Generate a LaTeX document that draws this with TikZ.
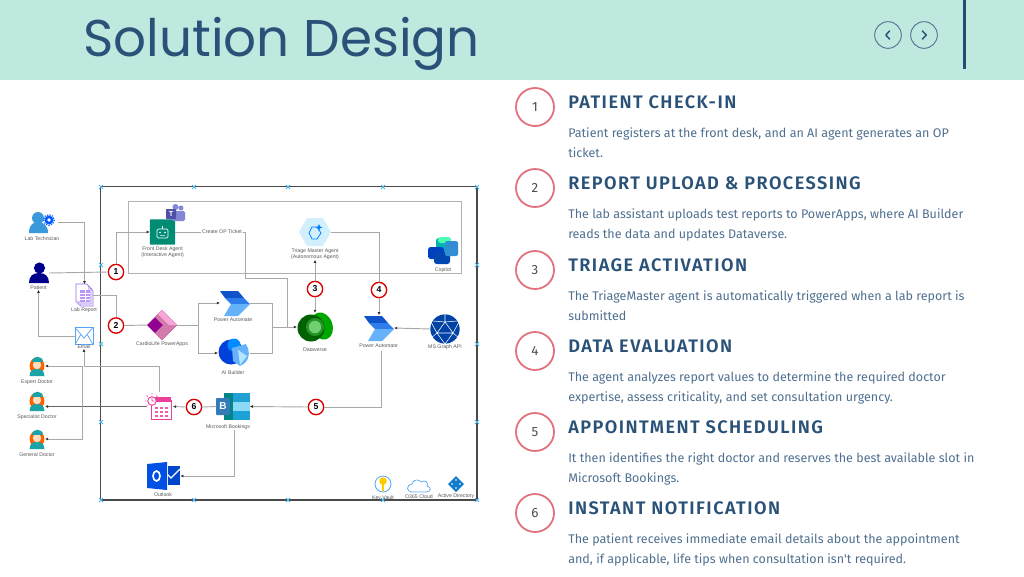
\documentclass[tikz,border=0pt]{standalone}
\usepackage{fontspec}
\setmainfont{Liberation Sans}
\newfontfamily\titlefont{Poppins}
\newfontfamily\bodyfont{Fira Sans}
\newfontfamily\headfont[LetterSpace=8]{Fira Sans SemiBold}
\usetikzlibrary{arrows.meta,shapes.geometric}
\definecolor{headerteal}{HTML}{BFE8DE}
\definecolor{navyink}{HTML}{2A5278}
\definecolor{barnavy}{HTML}{1F4E79}
\definecolor{bodyink}{HTML}{4F6F8F}
\definecolor{rowpink}{HTML}{E0737D}
\definecolor{wiregray}{HTML}{A8A8A8}
\definecolor{framegray}{HTML}{4A4A4A}
\definecolor{handleblue}{HTML}{4DB6E8}
\definecolor{skyline}{HTML}{58A6F2}
\definecolor{docteal}{HTML}{1BA3A8}
\definecolor{reportviolet}{HTML}{9B6BF0}
\definecolor{calpink}{HTML}{EC3F9A}
\definecolor{teamsblue}{HTML}{5B5FC7}
\definecolor{flowdark}{HTML}{0F54C9}
\definecolor{flowmid}{HTML}{2F7DEB}
\definecolor{flowlight}{HTML}{66B2FA}
\tikzset{
  x=0.75pt, y=-0.75pt,
  iconbox/.style={inner sep=0pt, outer sep=0pt},
  smalllabel/.style={font=\fontsize{3.9}{4.4}\selectfont, text=black!65, align=center, inner sep=0pt},
  wire/.style={draw=wiregray, line width=0.7pt},
  wiretip/.style={wire, -{Latex[length=2.4pt,width=2.2pt,black!80]}},
  badge/.style={circle, draw=red!85!black, line width=1pt, fill=white, minimum size=11.5pt, inner sep=0pt, font=\fontsize{6.5}{6.5}\bfseries\selectfont},
  rowbadge/.style={circle, draw=rowpink, line width=1.35pt, minimum size=28.5pt, inner sep=0pt, font=\bodyfont\fontsize{10}{10}\selectfont, text=black!70},
  rowhead/.style={anchor=base west, inner sep=0pt, font=\headfont\fontsize{13.6}{14}\selectfont, text=navyink},
  rowtext/.style={anchor=north west, inner sep=0pt, align=left, font=\bodyfont\fontsize{9.4}{15.3}\selectfont, text=bodyink},
  navcircle/.style={circle, draw=navyink!80, line width=0.7pt, minimum size=20pt, inner sep=0pt},
  navtip/.style={draw=navyink, line width=1.1pt, line cap=round, line join=round}
}
\begin{document}
\begin{tikzpicture}
  \useasboundingbox (0,0) rectangle (1024,576);

  % Header band
  \fill[headerteal] (0,0) rectangle (1024,80);
  \node[anchor=base west, inner sep=0pt, text=navyink, font=\titlefont\fontsize{38.7}{40}\selectfont] (pagetitle) at (83,56) {Solution Design};
  \fill[barnavy] (963,0) rectangle (966,69);
  \node[navcircle] (navback) at (888,35) {};
  \node[navcircle] (navnext) at (924,35) {};
  \draw[navtip] (889.5,31) -- (885.8,35) -- (889.5,39);
  \draw[navtip] (922.5,31) -- (926.2,35) -- (922.5,39);

  % Diagram frames
  \draw[framegray, line width=0.9pt] (100.5,186.5) rectangle (477,500);
  \draw[black!30, line width=0.7pt] (128.5,201.5) rectangle (461.5,273);
  \foreach \hx/\hy in {101/187,194/187,288/187,383/187,477/187,101/265,477/265,101/344,477/344,101/422,477/422,101/500,194/500,288/500,383/500,477/500}
    \draw[handleblue, line width=0.55pt] (\hx-2,\hy-2) -- (\hx+2,\hy+2) (\hx-2,\hy+2) -- (\hx+2,\hy-2);

  % Lab technician
  \node[iconbox, minimum width=26pt, minimum height=15pt] (labtech) at (41,222) {};
  \fill[cyan!70!blue!80] (38,218) circle (6);
  \fill[cyan!70!blue!80] (29,233) .. controls (29,224) and (34,222) .. (38,222) .. controls (43,222) and (48,225) .. (48,233) -- cycle;
  \draw[blue!65!cyan, line width=1.9pt] (49,220) circle (3.1);
  \draw[blue!65!cyan, line width=0.9pt, densely dotted] (49,220) circle (5.4);
  \node[smalllabel] (labtechtext) at (42,238.5) {Lab Technician};

  % Patient
  \node[iconbox, minimum width=15pt, minimum height=15pt] (patient) at (39,273) {};
  \fill[blue!55!black] (39.5,268) circle (5.6);
  \fill[blue!55!black] (29,283) .. controls (29,276) and (33,273) .. (39,273) .. controls (45,273) and (49,276) .. (49,283) -- cycle;
  \node[smalllabel] (patienttext) at (38.5,287.5) {Patient};

  % Lab report
  \node[iconbox, minimum width=13pt, minimum height=16pt] (labreport) at (84.5,295) {};
  \foreach \dx in {4,2,0}
    \draw[reportviolet, fill=white, line width=0.5pt] (76+\dx,284+\dx) -- (87+\dx,284+\dx) -- (89+\dx,287+\dx) -- (89+\dx,302+\dx) -- (76+\dx,302+\dx) -- cycle;
  \fill[reportviolet!70] (80,290) rectangle (90,302);
  \draw[white, line width=0.3pt] (80,293) -- (90,293) (80,296) -- (90,296) (80,299) -- (90,299) (85,290) -- (85,302);
  \node[smalllabel] (labreporttext) at (84,310) {Lab Report};

  % Email
  \node[iconbox, minimum width=13.5pt, minimum height=13pt] (email) at (84,336) {};
  \draw[skyline, fill=white, line width=0.55pt] (email.north west) rectangle (email.south east);
  \draw[skyline, line width=0.55pt] (email.north west) -- (84,338) -- (email.north east) (email.south west) -- (80.5,335) (email.south east) -- (87.5,335);
  \node[smalllabel] (emailtext) at (84,346.5) {Email};

  % Doctors
  \foreach \docname/\docy/\doctext in {expert/366/Expert Doctor,specialist/401/Specialist Doctor,general/439/General Doctor}{
    \node[iconbox, minimum width=12pt, minimum height=15pt] (\docname) at (37,\docy) {};
    \fill[orange!75!red] (37,\docy) ellipse (7.4 and 8.5);
    \fill[docteal] (29.5,\docy+10) .. controls (30,\docy+4) and (33,\docy+3) .. (37,\docy+3) .. controls (41,\docy+3) and (44,\docy+4) .. (44.5,\docy+10) -- cycle;
    \fill[orange!25!white] (37,\docy-1) circle (4.2);
    \fill[docteal] (31.5,\docy-4) .. controls (31.5,\docy-11) and (42.5,\docy-11) .. (42.5,\docy-4) -- cycle;
    \node[smalllabel] (\docname text) at (37,\docy+16) {\doctext};
  }

  % Front desk agent and Teams
  \node[iconbox, minimum width=19pt, minimum height=19pt, fill=teal!90!green, rounded corners=0.5pt] (frontdesk) at (162.5,232) {};
  \draw[white, line width=0.5pt, rounded corners=1pt] (157,229) rectangle (168,238);
  \draw[white, line width=0.5pt] (162.5,229) -- (162.5,226);
  \fill[white] (160,232.5) circle (0.8) (165,232.5) circle (0.8);
  \draw[white, line width=0.4pt] (160,235) .. controls (161,236.2) and (164,236.2) .. (165,235);
  \fill[teamsblue!75] (181,208) circle (2.5) (175.5,207) circle (3);
  \fill[teamsblue!75, rounded corners=1pt] (172,211) rectangle (185,221);
  \fill[teamsblue!85!black, rounded corners=0.5pt] (166,209) rectangle (176,219);
  \node[white, font=\fontsize{5.5}{5.5}\bfseries\selectfont, inner sep=0pt] (teamsmark) at (171,214) {T};
  \node[smalllabel] (frontdesktext) at (162.5,252.5) {Front Desk Agent\\(Interactive Agent)};

  % Triage master agent
  \node[iconbox, minimum width=24pt, minimum height=20pt] (triage) at (315,232) {};
  \fill[cyan!18] (299,232) -- (307,218) -- (323,218) -- (331,232) -- (323,246) -- (307,246) -- cycle;
  \draw[blue!50!cyan, line width=0.6pt] (309,233) -- (312,227) -- (317,227) -- (321,233) -- (317,239) -- (312,239) -- cycle;
  \fill[blue!50!cyan] (319,224) -- (320,226.4) -- (322.4,227.4) -- (320,228.4) -- (319,230.8) -- (318,228.4) -- (315.6,227.4) -- (318,226.4) -- cycle;
  \node[smalllabel] (triagetext) at (315,254) {Triage Master Agent\\(Autonomous Agent)};

  % Copilot
  \node[iconbox, minimum width=22pt, minimum height=21pt] (copilot) at (443,251) {};
  \fill[teal!60!cyan, rounded corners=2pt] (436,238) rectangle (451,252);
  \fill[green!45!cyan!70, rounded corners=2pt] (438,237) rectangle (451,243);
  \fill[teal!50!blue, rounded corners=2pt] (428,247) rectangle (444,259);
  \fill[blue!60!cyan!70!black, rounded corners=2pt] (434,252) rectangle (450,264);
  \fill[cyan!65!blue!85, rounded corners=1.5pt] (445,241) rectangle (458,256);
  \node[smalllabel] (copilottext) at (443,270) {Copilot};

  % Cardio app
  \node[iconbox, diamond, minimum width=22.5pt, minimum height=22.5pt, fill=violet!65!magenta!85!black] (powerapps) at (162,325) {};
  \fill[magenta!45!violet!60] (162,310) -- (177,325) -- (162,340) -- (155,333) -- (163,325) -- (155,317) -- cycle;
  \fill[magenta!35!white] (162,310) -- (177,325) -- (169,325) -- (158,314) -- cycle;
  \node[smalllabel] (powerappstext) at (162,344) {CardioLife PowerApps};

  % Power Automate (left)
  \node[iconbox, minimum width=22.5pt, minimum height=19pt] (flowleft) at (235,303) {};
  \fill[flowdark] (220,291) -- (238,291) -- (244,298) -- (225,298) -- cycle;
  \fill[flowmid] (225,298) -- (244,298) -- (250,304) -- (231,304) -- cycle;
  \fill[flowlight] (231,304) -- (250,304) -- (238,316) -- (224,316) -- cycle;
  \node[smalllabel] (flowlefttext) at (233,319.5) {Power Automate};

  % AI Builder
  \node[iconbox, minimum width=24pt, minimum height=21pt] (aibuilder) at (234,353) {};
  \fill[blue!70!cyan!85!black] (231,352) circle (12.5);
  \fill[blue!45!cyan] (234,345) circle (6.5);
  \fill[flowlight] (232,348) -- (246,344) .. controls (250,350) and (250,358) .. (245,363) -- (240,366) -- (233,361) -- cycle;
  \fill[cyan!30!white] (238,350) -- (247,356) -- (240,365) -- cycle;
  \node[smalllabel] (aibuildertext) at (233,373) {AI Builder};

  % Dataverse
  \node[iconbox, minimum width=27pt, minimum height=21pt] (dataverse) at (315,327) {};
  \fill[green!65!black, rotate around={20:(322,326)}] (322,326) ellipse (10.5 and 14);
  \fill[green!38!black] (311,328) circle (13.5);
  \fill[green!50!black!85] (315,327) circle (9);
  \fill[green!50!gray!75] (315,327) circle (6.2);
  \node[smalllabel] (dataversetext) at (315,350) {Dataverse};

  % Power Automate (right)
  \node[iconbox, minimum width=22.5pt, minimum height=19pt] (flowright) at (379,328) {};
  \fill[flowdark] (364,316) -- (382,316) -- (388,323) -- (369,323) -- cycle;
  \fill[flowmid] (369,323) -- (388,323) -- (394,329) -- (375,329) -- cycle;
  \fill[flowlight] (375,329) -- (394,329) -- (382,341) -- (368,341) -- cycle;
  \node[smalllabel] (flowrighttext) at (378.5,346) {Power Automate};

  % MS Graph API
  \node[iconbox, circle, minimum size=22pt, fill=blue!60!cyan!65!black] (graphapi) at (445,329) {};
  \draw[white, line width=0.4pt] (445,322) -- (453,333) -- (437,333) -- cycle (445,322) -- (445,314) (453,333) -- (459,338) (437,333) -- (431,338) (445,322) -- (433,321) (445,322) -- (457,321) (453,333) -- (445,344) (437,333) -- (445,344) (453,333) -- (459,322) (437,333) -- (431,322);
  \node[smalllabel] (graphapitext) at (445,347.5) {MS Graph API};

  % Calendar
  \node[iconbox, minimum width=20pt, minimum height=20pt] (calendar) at (159.5,406.5) {};
  \draw[calpink, line width=0.7pt] (152,400) -- (171,400) -- (171,419) -- (151,419) -- (151,404);
  \fill[calpink] (155,397) rectangle (171,402);
  \foreach \cx in {155,160,165}
    \foreach \cy in {407,411,415}
      \fill[calpink!85] (\cx,\cy) rectangle (\cx+3,\cy+2.4);
  \draw[calpink, fill=white, line width=0.7pt] (152,401) circle (4.3);
  \draw[calpink, line width=0.55pt] (152,394.5) -- (152,393) (146,401) -- (145,401) (147.5,396.5) -- (146.5,395.5) (156.5,396.5) -- (157.5,395.5) (147.5,405.5) -- (146.5,406.5) (152,401) -- (152,398) (152,401) -- (154.5,401);
  \node[iconbox] (calendarmark) at (159,393) {};

  % Microsoft Bookings
  \node[iconbox, minimum width=25pt, minimum height=20pt] (bookings) at (233,406.5) {};
  \fill[teal!60!cyan!75!black] (224,393) rectangle (240,420);
  \fill[cyan!70!teal] (233,393) rectangle (250,402);
  \fill[cyan!45!white] (233,402) rectangle (250,411);
  \fill[cyan!75!teal] (233,411) rectangle (250,420);
  \fill[teal!70!blue!80, rounded corners=0.6pt] (216,398) rectangle (230,415);
  \node[white, font=\fontsize{7.5}{7.5}\bfseries\selectfont, inner sep=0pt] (bookingsmark) at (223,406.5) {B};
  \node[smalllabel] (bookingstext) at (228,427) {Microsoft Bookings};

  % Outlook
  \node[iconbox, minimum width=25pt, minimum height=21pt] (outlook) at (163.5,476) {};
  \fill[blue!65!cyan!80!black] (167.5,466) rectangle (180,485);
  \draw[white, line width=0.9pt] (167,474) -- (171,478) -- (180,469);
  \fill[blue!65!cyan!90!black] (147,464) -- (167,462) -- (167,490) -- (147,488) -- cycle;
  \draw[white, line width=1.25pt] (156.5,476) ellipse (3.5 and 5);
  \node[smalllabel] (outlooktext) at (163,495) {Outlook};

  % Small service icons
  \node[iconbox, circle, minimum size=12pt, draw=skyline, line width=0.6pt] (keyvault) at (383,484) {};
  \fill[orange!40!yellow] (383,481) circle (3.8);
  \fill[orange!40!yellow] (382,483) rectangle (384.2,491);
  \node[smalllabel] (keyvaulttext) at (383,498) {Key Vault};
  \node[iconbox, minimum width=17pt, minimum height=10pt] (cloudicon) at (419,486) {};
  \draw[skyline, line width=0.55pt] (412,492) .. controls (406,492) and (406,485) .. (412,484) .. controls (413,479) and (419,479) .. (421,482) .. controls (425,479) and (429,483) .. (427,486) .. controls (432,487) and (431,492) .. (426,492) -- cycle;
  \node[smalllabel] (cloudicontext) at (419,497) {O365 Cloud};
  \node[iconbox, diamond, minimum width=12pt, minimum height=12pt, fill=cyan!60!blue] (activedir) at (456,484) {};
  \foreach \ax/\ay in {456/480,452/484,460/484,456/488}
    \fill[white] (\ax,\ay) circle (0.9);
  \node[smalllabel] (activedirtext) at (456,496.5) {Active Directory};

  % Numbered circles
  \node[badge] (badgeone) at (116,272) {1};
  \node[badge] (badgetwo) at (116,325.5) {2};
  \node[badge] (badgethree) at (315,289) {3};
  \node[badge] (badgefour) at (379,290) {4};
  \node[badge] (badgefive) at (316,407) {5};
  \node[badge] (badgesix) at (194,407) {6};

  % Bend points
  \coordinate (ticketdrop) at (245,278);
  \coordinate (mergeright) at (287,327);
  \coordinate (mergeleft) at (272,327);
  \coordinate (appsplit) at (198,325);
  \coordinate (doctorbus) at (82,407);
  \coordinate (calendarup) at (158,366);
  \coordinate (bookingsfoot) at (234,430);
  \coordinate (flowfoot) at (381,351);

  % Connectors
  \draw[wire] (labtech.east) -| (84.5,270) coordinate (labreportwire);
  \draw[wiretip] (labreportwire) -- (labreport.north);
  \draw[wire] (patient.east) -- (badgeone.west);
  \draw[wiretip] (badgeone.north) |- (frontdesk.west);
  \node[smalllabel, fill=white, inner xsep=0.5pt] (ticketlabel) at (222,232) {Create OP Ticket};
  \draw[wire] (frontdesk.east) -- (ticketlabel.west);
  \draw[wire] (ticketlabel.east) -| (ticketdrop) -| (mergeright);
  \draw[wiretip] (mergeright) -- (dataverse.west);
  \draw[wire] (labreport.east) -| (badgetwo.north);
  \draw[wire] (badgetwo.east) -- (powerapps.west);
  \draw[wire] (powerapps.east) -- (appsplit);
  \draw[wiretip] (appsplit) |- (flowleft.west);
  \draw[wiretip] (appsplit) |- (aibuilder.west);
  \draw[wire] (flowleft.east) -| (mergeleft);
  \draw[wire] (aibuilder.east) -| (mergeleft);
  \draw[wire] (mergeleft) -- (mergeright);
  \draw[wiretip] (badgethree.north) -- (triagetext.south);
  \draw[wiretip] (badgethree.south) -- (dataverse.north);
  \draw[wire] (triage.east) -| (badgefour.north);
  \draw[wiretip] (badgefour.south) -- (flowright.north);
  \draw[wiretip] (graphapi.west) -- (flowright.east);
  \draw[wire] (flowfoot) |- (badgefive.east);
  \draw[wiretip] (badgefive.west) -- (bookings.east);
  \draw[wire] (bookings.west) -- (badgesix.east);
  \draw[wiretip] (badgesix.west) -- (calendar.east);
  \draw[wiretip, draw=black!60] (calendar.west) -- (specialist.east |- calendar.west);
  \draw[wiretip] (doctorbus) |- (expert.east);
  \draw[wiretip] (doctorbus) |- (general.east);
  \draw[wiretip] (calendarmark) |- (calendarup) -| (emailtext.south);
  \draw[wiretip] (email.west) -| (patienttext.south);
  \draw[wiretip] (bookingsfoot) |- (outlook.east);

  % Step list
  \foreach \rowy/\rownum/\rowtitle/\rowbody in {
    107/1/PATIENT CHECK-IN/{Patient registers at the front desk, and an AI agent generates an OP\\ticket.},
    188/2/REPORT UPLOAD \& PROCESSING/{The lab assistant uploads test reports to PowerApps, where AI Builder\\reads the data and updates Dataverse.},
    270/3/TRIAGE ACTIVATION/{The TriageMaster agent is automatically triggered when a lab report is\\submitted},
    351/4/DATA EVALUATION/{The agent analyzes report values to determine the required doctor\\expertise, assess criticality, and set consultation urgency.},
    432/5/APPOINTMENT SCHEDULING/{It then identifies the right doctor and reserves the best available slot in\\Microsoft Bookings.},
    513/6/INSTANT NOTIFICATION/{The patient receives immediate email details about the appointment\\and, if applicable, life tips when consultation isn't required.}}{
    \node[rowbadge] (rowbadge\rownum) at (535,\rowy) {\rownum};
    \node[rowhead] (rowhead\rownum) at (568,\rowy+1.3) {\rowtitle};
    \node[rowtext] (rowtext\rownum) at (568,\rowy+20.5) {\rowbody};
  }
\end{tikzpicture}
\end{document}
